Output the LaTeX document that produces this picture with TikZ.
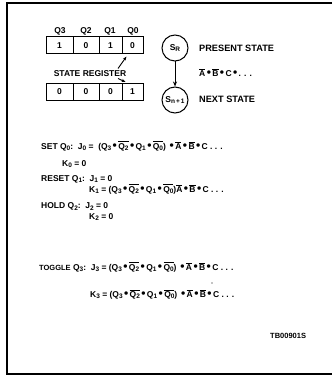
\documentclass[tikz,border=0pt]{standalone}
\usepackage{fontspec}
\setmainfont{Liberation Sans}
\usetikzlibrary{arrows.meta}
\newcommand\sbs[1]{\raisebox{-0.4ex}{\fontsize{6.5}{6.5}\selectfont #1}}
\newcommand\ovl[1]{$\overline{\hbox{#1}}$}
\newcommand\bul{\,{\large\textbullet}\,}
\tikzset{
  lbl/.style={font=\fontsize{8.5}{9}\selectfont\bfseries, inner sep=0pt},
  big/.style={font=\fontsize{9.2}{10}\selectfont\bfseries, inner sep=0pt, anchor=west},
  eq/.style={font=\fontsize{8.5}{9}\selectfont\bfseries, inner sep=0pt, anchor=west},
  cell/.style={draw, line width=1pt, minimum height=17pt, inner sep=0pt, font=\fontsize{8.5}{9}\selectfont\bfseries},
  stc/.style={draw, circle, line width=1pt, minimum size=26pt, inner sep=0pt, font=\fontsize{8.5}{9}\selectfont\bfseries},
  lead/.style={line width=0.9pt, -{Stealth[length=4pt,width=3pt]}},
  frame/.style={line width=1.1pt}
}
\begin{document}
\begin{tikzpicture}[x=1pt,y=-1pt]
\useasboundingbox (0,0) rectangle (332,379);
\coordinate (ftr) at (332,3);
\coordinate (ftl) at (7,3);
\coordinate (fbl) at (7,374);
\coordinate (fbr) at (332,374);
\draw[frame] (ftr) -- (ftl) -- (fbl) -- (fbr);
% register labels
\node[lbl] (q3) at (60,31) {Q3};
\node[lbl] (q2) at (86,31) {Q2};
\node[lbl] (q1) at (110,31) {Q1};
\node[lbl] (q0) at (133,31) {Q0};
% top register
\node[cell, minimum width=27pt] (t3) at (59.5,45.5) {1};
\node[cell, minimum width=26pt] (t2) at (86,45.5) {0};
\node[cell, minimum width=23pt] (t1) at (110.5,45.5) {1};
\node[cell, minimum width=21pt] (t0) at (132.5,45.5) {0};
% bottom register
\node[cell, minimum width=27pt] (b3) at (59.5,92) {0};
\node[cell, minimum width=26pt] (b2) at (86,92) {0};
\node[cell, minimum width=23pt] (b1) at (110.5,92) {0};
\node[cell, minimum width=21pt] (b0) at (132.5,92) {1};
\node[lbl] (sreg) at (90,74) {STATE REGISTER};
\coordinate (la) at (118,68.5);
\coordinate (lb) at (118,78.5);
\draw[lead] (la) -- ([xshift=5pt,yshift=-2pt]t0.south west);
\draw[lead] (lb) -- ([xshift=4pt,yshift=1pt]b0.north west);
% states
\node[stc] (sr) at (175,48) {S\sbs{R}};
\node[stc] (sn) at (175,100) {S\sbs{n\,+\,1}};
\draw[line width=0.9pt, -{Stealth[length=5pt,width=4pt]}] (sr) -- (sn);
\node[big] (ps) at (199,48) {PRESENT STATE};
\node[eq] (cond) at (199,73) {\ovl{A}\bul\ovl{B}\bul C\bul . . .};
\node[big] (ns) at (199,99) {NEXT STATE};
% equations
\node[eq] (e1) at (41,146) {SET Q\sbs{0}:\ \ J\sbs{0} =\ \ (Q\sbs{3}\bul \ovl{Q\sbs{2}}\bul Q\sbs{1}\bul \ovl{Q\sbs{0}}) \bul\ovl{A}\bul\ovl{B}\bul C . . .};
\node[eq] (e2) at (62,164) {K\sbs{0} = 0};
\node[eq] (e3) at (41,179) {RESET Q\sbs{1}:\ \ J\sbs{1} = 0};
\node[eq] (e4) at (89,189) {K\sbs{1} =\ (Q\sbs{3}\bul \ovl{Q\sbs{2}}\bul Q\sbs{1}\bul \ovl{Q\sbs{0}})\ovl{A}\bul\ovl{B}\bul C . . .};
\node[eq] (e5) at (41,206.5) {HOLD Q\sbs{2}:\ \ J\sbs{2} = 0};
\node[eq] (e6) at (89,217) {K\sbs{2} = 0};
\node[eq] (e7) at (39,267) {{\fontsize{7.5}{8}\selectfont TOGGLE} Q\sbs{3}:\ \ J\sbs{3} = (Q\sbs{3}\bul \ovl{Q\sbs{2}}\bul Q\sbs{1}\bul \ovl{Q\sbs{0}}) \bul\ovl{A}\bul\ovl{B}\bul C . . .};
\node[eq] (e8) at (90,294) {K\sbs{3} = (Q\sbs{3}\bul \ovl{Q\sbs{2}}\bul Q\sbs{1}\bul \ovl{Q\sbs{0}}) \bul\ovl{A}\bul\ovl{B}\bul C . . .};
\fill (212,283) circle (0.7pt);
\node[eq, font=\fontsize{7.5}{8}\selectfont\bfseries] (tb) at (270,336) {TB00901S};
\end{tikzpicture}
\end{document}
